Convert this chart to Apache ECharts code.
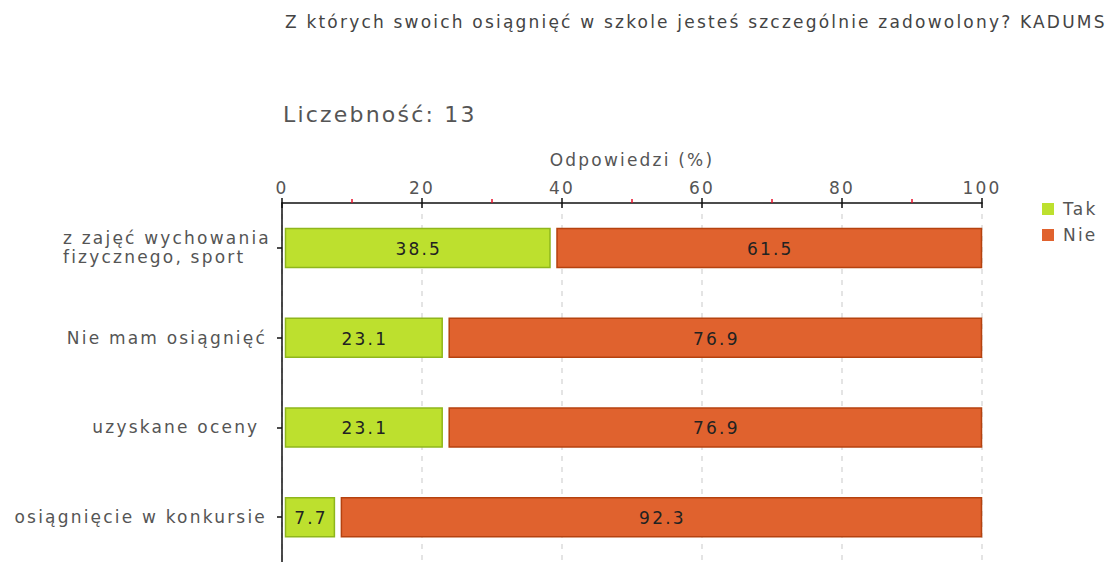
<!DOCTYPE html>
<html>
<head>
<meta charset="utf-8">
<script src="https://cdn.jsdelivr.net/npm/echarts@6/dist/echarts.min.js"></script>
<style>
  html, body { margin: 0; padding: 0; background: #fff; }
  #chart { width: 1114px; height: 562px; }
  /* the chart's lettering is set with open tracking */
  #chart svg text, #chart svg tspan { letter-spacing: 2.2px !important; }
</style>
</head>
<body>
<div id="chart"></div>
<script>
// Survey answers, shares in percent
const categories = [
  'z zajęć wychowania\nfizycznego, sport',
  'Nie mam osiągnięć',
  'uzyskane oceny ',
  'osiągnięcie w konkursie'
];
const takValues = [38.5, 23.1, 23.1, 7.7];
const nieValues = [61.5, 76.9, 76.9, 92.3];
const seriesNames = ['Tak', 'Nie'];
const xTicks = [0, 20, 40, 60, 80, 100];

const titleText = 'Z których swoich osiągnięć w szkole jesteś szczególnie zadowolony? KADUMS';
const subtitleText = 'Liczebność: 13';
const axisTitle = 'Odpowiedzi (%)';

const palette = [
  { fill: '#bde02e', border: '#8fb61c' },
  { fill: '#e0622e', border: '#b5420f' }
];

const FONT = 'DejaVu Sans';
const TEXT = '#555';
const FS = 17;

// stacked segments: [category index, start, end, value]
const stacks = [takValues, nieValues];
const segments = stacks.map((vals, si) => vals.map((v, ci) => {
  let start = 0;
  for (let k = 0; k < si; k++) start += stacks[k][ci];
  return [ci, start, start + v, v];
}));

function makeRender(si) {
  return function (params, api) {
    const ci = api.value(0);
    const p0 = api.coord([api.value(1), ci]);
    const p1 = api.coord([api.value(2), ci]);
    const h = 40;
    const x0 = p0[0] + (si === 0 ? 3 : 5);
    const x1 = p1[0] - (si === 0 ? 1 : 0);
    const y0 = p0[1] - h / 2;
    return {
      type: 'group',
      children: [
        {
          type: 'rect',
          shape: { x: x0 + 0.5, y: y0 + 0.5, width: x1 - x0 - 1, height: h - 1 },
          style: { fill: palette[si].fill, stroke: palette[si].border, lineWidth: 1.5 }
        },
        {
          type: 'text',
          style: {
            text: String(api.value(3)),
            x: (x0 + x1) / 2 + 1,
            y: p0[1] + 1,
            align: 'center',
            verticalAlign: 'middle',
            fill: '#222',
            font: FS + 'px "' + FONT + '"'
          }
        }
      ]
    };
  };
}

const chart = echarts.init(document.getElementById('chart'), null, { renderer: 'svg' });

const firstLabelRich = {
  l: { fontFamily: FONT, fontSize: FS, color: TEXT, width: 204, align: 'left', lineHeight: 19 }
};

chart.setOption({
  animation: false,
  backgroundColor: '#fff',
  textStyle: { fontFamily: FONT },
  title: [
    {
      text: titleText,
      left: 280, top: 8,
      textStyle: { fontFamily: FONT, fontSize: FS, fontWeight: 'normal', color: '#444' }
    },
    {
      text: subtitleText,
      left: 278, top: 98,
      textStyle: { fontFamily: FONT, fontSize: 22, fontWeight: 'normal', color: TEXT }
    }
  ],
  legend: {
    data: seriesNames,
    orient: 'vertical',
    left: 1037, top: 195,
    icon: 'rect',
    itemWidth: 12, itemHeight: 12,
    itemGap: 8,
    itemStyle: { borderWidth: 0 },
    textStyle: { fontFamily: FONT, fontSize: FS, lineHeight: 18, color: TEXT, padding: [0, 0, 0, 4] }
  },
  grid: { left: 282, top: 203, width: 700, height: 360 },
  xAxis: [
    {
      type: 'value',
      position: 'top',
      min: 0, max: 100, interval: 20,
      name: axisTitle,
      nameLocation: 'middle',
      nameGap: 35,
      nameTextStyle: { fontFamily: FONT, fontSize: FS, color: TEXT },
      axisLine: { show: true, lineStyle: { color: '#111', width: 1.5 } },
      axisTick: { show: true, length: 5, lineStyle: { color: '#111', width: 1.5 } },
      minorTick: { show: true, splitNumber: 2, length: 4, lineStyle: { color: '#e8102a', width: 1.5 } },
      axisLabel: {
        margin: 7,
        fontFamily: FONT, fontSize: FS, color: TEXT,
        formatter: v => (xTicks.indexOf(v) >= 0 ? String(v) : '')
      },
      splitLine: { show: true, lineStyle: { color: '#dcdcdc', type: [5, 6], width: 1.5 } }
    },
    {
      type: 'value',
      position: 'top',
      min: 0, max: 100, interval: 20,
      axisLine: { show: false },
      axisTick: { show: true, inside: true, length: 5, lineStyle: { color: '#111', width: 1.5 } },
      axisLabel: { show: false },
      splitLine: { show: false }
    }
  ],
  yAxis: {
    type: 'category',
    data: categories,
    inverse: true,
    axisLine: { show: true, lineStyle: { color: '#111', width: 1.5 } },
    axisTick: { show: true, alignWithLabel: true, length: 5, lineStyle: { color: '#111', width: 1.5 } },
    axisLabel: {
      margin: 15,
      fontFamily: FONT, fontSize: FS, color: TEXT,
      formatter: (v) => v.indexOf('\n') >= 0
        ? v.split('\n').map(s => '{l|' + s + '}').join('\n')
        : v,
      rich: firstLabelRich
    }
  },
  series: segments.map((data, si) => ({
    type: 'custom',
    name: seriesNames[si],
    xAxisIndex: 0,
    renderItem: makeRender(si),
    itemStyle: { color: palette[si].fill, borderColor: palette[si].border, borderWidth: 1 },
    encode: { x: [1, 2], y: 0 },
    data: data
  }))
});
</script>
</body>
</html>
